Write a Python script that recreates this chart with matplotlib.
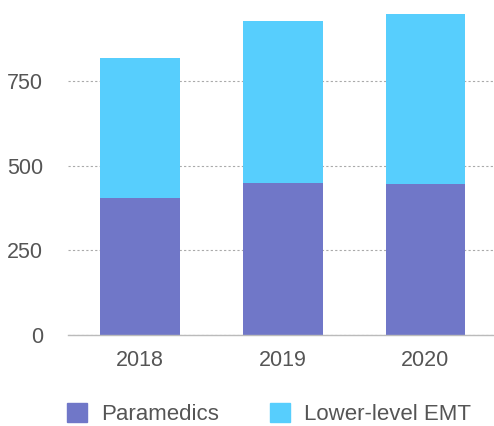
import matplotlib
matplotlib.use("Agg")
import matplotlib.pyplot as plt
from matplotlib.patches import Patch

years = ["2018", "2019", "2020"]
paramedics = [404, 448, 445]
lower_emt = [413, 480, 502]

purple = "#7077C8"
cyan = "#57CEFD"

plt.rcParams['font.family'] = ['Liberation Sans', 'DejaVu Sans']

fig = plt.figure(figsize=(4.94, 4.26), dpi=100, facecolor="white")
ax = fig.add_axes([68 / 494, 1 - 335 / 426, (494 - 68) / 494, 335 / 426])

x = range(len(years))
ax.bar(x, paramedics, width=0.56, color=purple, zorder=2)
ax.bar(x, lower_emt, width=0.56, bottom=paramedics, color=cyan, zorder=2)

ax.set_xlim(-0.505, 2.48)
ax.set_ylim(0, 989)
ax.set_yticks([0, 250, 500, 750])
ax.set_xticks(list(x))
ax.set_xticklabels(years)
ax.yaxis.grid(True, linestyle=(0, (2, 2)), color="#aaaaaa", linewidth=0.8, zorder=1)

for side in ["top", "right", "left"]:
    ax.spines[side].set_visible(False)
ax.spines["bottom"].set_color("#bbbbbb")
ax.spines["bottom"].set_linewidth(1.0)
ax.tick_params(axis="both", length=0, labelsize=15.5, colors="#555555")
ax.tick_params(axis="y", pad=18)
ax.tick_params(axis="x", pad=11)

handles = [Patch(color=purple, label="Paramedics"),
           Patch(color=cyan, label="Lower-level EMT")]
fig.legend(handles=handles, loc="center", bbox_to_anchor=(269 / 494, 1 - 414 / 426),
           ncol=2, frameon=False, fontsize=16, handlelength=0.9, handleheight=0.9,
           columnspacing=2.3, handletextpad=0.63, labelcolor="#555555")

fig.savefig("out.png", dpi=100, facecolor="white")
